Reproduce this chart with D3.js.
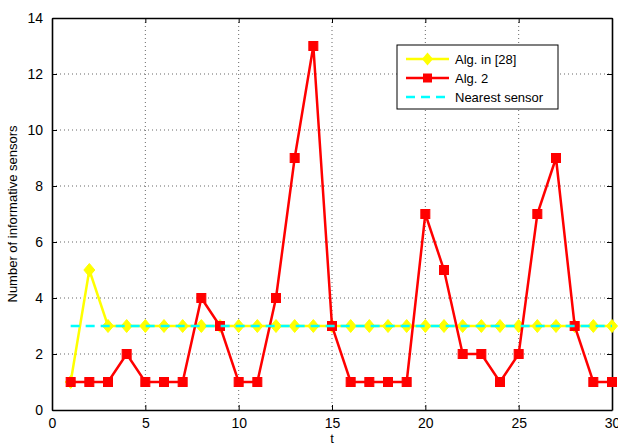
<!DOCTYPE html>
<html>
<head>
<meta charset="utf-8">
<script src="https://cdn.jsdelivr.net/npm/d3@7"></script>
<style>
  body { margin: 0; background: #fff; }
  text { font-family: "Liberation Sans", Arial, sans-serif; }
</style>
</head>
<body>
<div id="chart"></div>
<script>
// data
const tValues = d3.range(1, 31);
const algRef = [1, 5, 3, 3, 3, 3, 3, 3, 3, 3, 3, 3, 3, 3, 3, 3, 3, 3, 3, 3, 3, 3, 3, 3, 3, 3, 3, 3, 3, 3];
const alg2 = [1, 1, 1, 2, 1, 1, 1, 4, 3, 1, 1, 4, 9, 13, 3, 1, 1, 1, 1, 7, 5, 2, 2, 1, 2, 7, 9, 3, 1, 1];
const nearest = [3, 3];
const nearestT = [1, 30];
const xTicks = [0, 5, 10, 15, 20, 25, 30];
const yTicks = [0, 2, 4, 6, 8, 10, 12, 14];
const seriesNames = ["Alg. in [28]", "Alg. 2", "Nearest sensor"];

const W = 618, H = 445;
const margin = { top: 18, right: 6, bottom: 35, left: 52 };
const width = W - margin.left - margin.right;
const height = H - margin.top - margin.bottom;

const svg = d3.select("#chart").append("svg")
    .attr("width", W)
    .attr("height", H);

const g = svg.append("g")
    .attr("transform", `translate(${margin.left},${margin.top})`);

const x = d3.scaleLinear().domain([0, 30]).range([0, width]);
const y = d3.scaleLinear().domain([0, 14]).range([height, 0]);

// grid
g.selectAll(".vgrid").data(xTicks.slice(1, -1)).enter().append("line")
    .attr("x1", d => x(d)).attr("x2", d => x(d))
    .attr("y1", 0).attr("y2", height)
    .style("stroke", "#000").style("stroke-width", 0.6)
    .style("stroke-dasharray", "1,3");
g.selectAll(".hgrid").data(yTicks.slice(1, -1)).enter().append("line")
    .attr("y1", d => y(d)).attr("y2", d => y(d))
    .attr("x1", 0).attr("x2", width)
    .style("stroke", "#000").style("stroke-width", 0.6)
    .style("stroke-dasharray", "1,3");

// axes (ticks inward, box)
g.append("g")
    .attr("transform", `translate(0,${height})`)
    .call(d3.axisBottom(x).tickValues(xTicks).tickSizeInner(-5).tickSizeOuter(0).tickPadding(8));
g.append("g")
    .call(d3.axisLeft(y).tickValues(yTicks).tickSizeInner(-5).tickSizeOuter(0).tickPadding(9));
g.append("g")
    .call(d3.axisTop(x).tickValues(xTicks).tickSizeInner(-5).tickSizeOuter(0).tickFormat(""));
g.append("g")
    .attr("transform", `translate(${width},0)`)
    .call(d3.axisRight(y).tickValues(yTicks).tickSizeInner(-5).tickSizeOuter(0).tickFormat(""));
g.selectAll(".domain").style("stroke", "#000").style("stroke-width", 1.6);
g.selectAll(".tick line").style("stroke", "#000");
g.selectAll(".tick text").style("font-size", "14px").style("fill", "#000");

// labels
g.append("text")
    .attr("x", width / 2)
    .attr("y", height + 33)
    .attr("text-anchor", "middle")
    .style("font-size", "13px")
    .text("t");
g.append("text")
    .attr("transform", "rotate(-90)")
    .attr("x", -height / 2)
    .attr("y", -35)
    .attr("text-anchor", "middle")
    .style("font-size", "13px")
    .text("Number of informative sensors");

const line = d3.line().x(d => x(d[0])).y(d => y(d[1]));
// MATLAB-like diamond: ~11px wide, ~13px tall
const diamondPath = "M0,-6.5L5.5,0L0,6.5L-5.5,0Z";

// Alg. in [28]
const refPts = tValues.map((t, i) => [t, algRef[i]]);
g.append("path").datum(refPts)
    .attr("d", line)
    .style("fill", "none").style("stroke", "#ffff00").style("stroke-width", 2.5);
g.selectAll(".ref-pt").data(refPts).enter().append("path")
    .attr("transform", d => `translate(${x(d[0])},${y(d[1])})`)
    .attr("d", diamondPath)
    .style("fill", "#ffff00").style("stroke", "#ffff00");

// Alg. 2
const a2Pts = tValues.map((t, i) => [t, alg2[i]]);
g.append("path").datum(a2Pts)
    .attr("d", line)
    .style("fill", "none").style("stroke", "#ff0000").style("stroke-width", 2.5);
g.selectAll(".a2-pt").data(a2Pts).enter().append("rect")
    .attr("x", d => x(d[0]) - 4.5).attr("y", d => y(d[1]) - 4.5)
    .attr("width", 9).attr("height", 9)
    .style("fill", "#ff0000").style("stroke", "#ff0000");

// Nearest sensor
g.append("path").datum(nearestT.map((t, i) => [t, nearest[i]]))
    .attr("d", line)
    .style("fill", "none").style("stroke", "#00ffff").style("stroke-width", 2.5)
    .style("stroke-dasharray", "9,6");

// legend
const lg = svg.append("g").attr("transform", "translate(397,45)");
lg.append("rect").attr("width", 161).attr("height", 64)
    .style("fill", "#fff").style("stroke", "#000").style("stroke-width", 1);
const colors = ["#ffff00", "#ff0000", "#00ffff"];
seriesNames.forEach((name, i) => {
    const yy = 14 + i * 19;
    lg.append("line").attr("x1", 9).attr("x2", 52).attr("y1", yy).attr("y2", yy)
        .style("stroke", colors[i]).style("stroke-width", 2.5)
        .style("stroke-dasharray", i === 2 ? "9,6" : null);
    if (i === 0) {
        lg.append("path").attr("transform", `translate(30.5,${yy})`)
            .attr("d", diamondPath).style("fill", colors[0]);
    } else if (i === 1) {
        lg.append("rect").attr("x", 26).attr("y", yy - 4.5).attr("width", 9).attr("height", 9)
            .style("fill", colors[1]);
    }
    lg.append("text").attr("x", 58).attr("y", yy + 5)
        .style("font-size", "13px").text(name);
});
</script>
</body>
</html>
